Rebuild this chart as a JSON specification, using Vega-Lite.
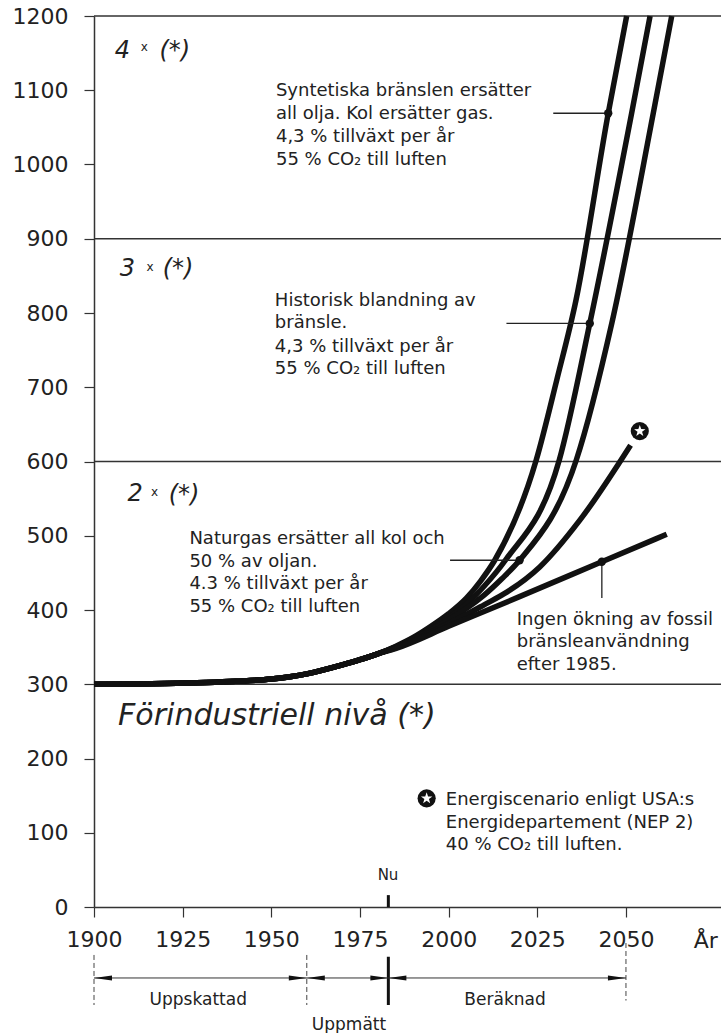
{
  "$schema": "https://vega.github.io/schema/vega-lite/v6.json",
  "width": 627,
  "height": 891,
  "autosize": {"type": "none"},
  "padding": {"left": 94, "top": 16, "right": 0, "bottom": 126},
  "background": "white",
  "config": {"view": {"stroke": null}, "font": "DejaVu Sans"},
  "encoding": {
    "x": {"field": "year", "type": "quantitative", "title": null,
      "scale": {"domain": [1900, 2076.8], "nice": false, "zero": false},
      "axis": {"values": [1900, 1925, 1950, 1975, 2000, 2025, 2050], "format": "d", "grid": false,
        "domainColor": "#333", "domainWidth": 1.5, "tickColor": "#333", "tickSize": 10, "tickWidth": 1.2,
        "labelFontSize": 22, "labelColor": "#222", "labelPadding": 12, "labelFlush": false}},
    "y": {"field": "value", "type": "quantitative", "title": null,
      "scale": {"domain": [0, 1200], "nice": false},
      "axis": {"values": [0, 100, 200, 300, 400, 500, 600, 700, 800, 900, 1000, 1100, 1200], "format": "d", "grid": false,
        "domainColor": "#333", "domainWidth": 1.5, "tickColor": "#333", "tickSize": 10, "tickWidth": 1.2,
        "labelFontSize": 22, "labelColor": "#222", "labelPadding": 16, "labelFlush": false}}
  },
  "layer": [
    {
      "data": {"values": [
        {"year": 1900, "year2": 2076.8, "value": 300}, {"year": 1900, "year2": 2076.8, "value": 600},
        {"year": 1900, "year2": 2076.8, "value": 900}, {"year": 1900, "year2": 2076.8, "value": 1200}
      ]},
      "mark": {"type": "rule", "color": "#333", "strokeWidth": 1.5},
      "encoding": {"x2": {"field": "year2"}}
    },
    {
      "data": {"values": [
        {"series": "A", "year": 1900, "value": 300}, {"series": "A", "year": 1920, "value": 301}, {"series": "A", "year": 1940, "value": 304}, {"series": "A", "year": 1950, "value": 307}, {"series": "A", "year": 1960, "value": 314}, {"series": "A", "year": 1970, "value": 326}, {"series": "A", "year": 1975, "value": 333}, {"series": "A", "year": 1980, "value": 341},
        {"series": "A", "year": 1985, "value": 351}, {"series": "A", "year": 1990, "value": 363}, {"series": "A", "year": 1995, "value": 378}, {"series": "A", "year": 2000, "value": 395}, {"series": "A", "year": 2005, "value": 416}, {"series": "A", "year": 2009, "value": 439}, {"series": "A", "year": 2013, "value": 467}, {"series": "A", "year": 2024.7, "value": 602}, {"series": "A", "year": 2030.5, "value": 710}, {"series": "A", "year": 2035.9, "value": 817}, {"series": "A", "year": 2045, "value": 1069}, {"series": "A", "year": 2050.2, "value": 1200},
        {"series": "B", "year": 1900, "value": 300}, {"series": "B", "year": 1920, "value": 301}, {"series": "B", "year": 1940, "value": 304}, {"series": "B", "year": 1950, "value": 307}, {"series": "B", "year": 1960, "value": 314}, {"series": "B", "year": 1970, "value": 326}, {"series": "B", "year": 1975, "value": 333}, {"series": "B", "year": 1980, "value": 341},
        {"series": "B", "year": 1985, "value": 350}, {"series": "B", "year": 1990, "value": 362}, {"series": "B", "year": 1995, "value": 375}, {"series": "B", "year": 2000, "value": 390}, {"series": "B", "year": 2005, "value": 408}, {"series": "B", "year": 2010, "value": 432}, {"series": "B", "year": 2016, "value": 467}, {"series": "B", "year": 2031.2, "value": 602}, {"series": "B", "year": 2039.8, "value": 786}, {"series": "B", "year": 2051.6, "value": 1069}, {"series": "B", "year": 2056.8, "value": 1200},
        {"series": "C", "year": 1900, "value": 300}, {"series": "C", "year": 1920, "value": 301}, {"series": "C", "year": 1940, "value": 304}, {"series": "C", "year": 1950, "value": 307}, {"series": "C", "year": 1960, "value": 314}, {"series": "C", "year": 1970, "value": 326}, {"series": "C", "year": 1975, "value": 333}, {"series": "C", "year": 1980, "value": 341},
        {"series": "C", "year": 1985, "value": 350}, {"series": "C", "year": 1990, "value": 361}, {"series": "C", "year": 1995, "value": 373}, {"series": "C", "year": 2000, "value": 387}, {"series": "C", "year": 2005, "value": 402}, {"series": "C", "year": 2010, "value": 420}, {"series": "C", "year": 2015, "value": 442}, {"series": "C", "year": 2020, "value": 467}, {"series": "C", "year": 2036, "value": 602}, {"series": "C", "year": 2046, "value": 786}, {"series": "C", "year": 2057.7, "value": 1069}, {"series": "C", "year": 2062.9, "value": 1200},
        {"series": "D", "year": 1900, "value": 300}, {"series": "D", "year": 1920, "value": 301}, {"series": "D", "year": 1940, "value": 304}, {"series": "D", "year": 1950, "value": 307}, {"series": "D", "year": 1960, "value": 314}, {"series": "D", "year": 1970, "value": 326}, {"series": "D", "year": 1975, "value": 333}, {"series": "D", "year": 1980, "value": 341},
        {"series": "D", "year": 1985, "value": 349}, {"series": "D", "year": 1990, "value": 359}, {"series": "D", "year": 1995, "value": 370}, {"series": "D", "year": 2000, "value": 382}, {"series": "D", "year": 2005, "value": 394}, {"series": "D", "year": 2010, "value": 407}, {"series": "D", "year": 2016.4, "value": 424}, {"series": "D", "year": 2025.7, "value": 458}, {"series": "D", "year": 2037, "value": 521}, {"series": "D", "year": 2051.3, "value": 622},
        {"series": "E", "year": 1900, "value": 300}, {"series": "E", "year": 1920, "value": 301}, {"series": "E", "year": 1940, "value": 304}, {"series": "E", "year": 1950, "value": 307}, {"series": "E", "year": 1960, "value": 314}, {"series": "E", "year": 1970, "value": 326}, {"series": "E", "year": 1975, "value": 333}, {"series": "E", "year": 1980, "value": 341},
        {"series": "E", "year": 1985, "value": 348}, {"series": "E", "year": 2000, "value": 378}, {"series": "E", "year": 2020, "value": 418}, {"series": "E", "year": 2043.2, "value": 465}, {"series": "E", "year": 2061.5, "value": 502}
      ]},
      "mark": {"type": "line", "interpolate": "monotone", "strokeWidth": 5.5, "color": "#111"},
      "encoding": {"detail": {"field": "series", "type": "nominal"}}
    },
    {
      "data": {"values": [
        {"year": 2029.5, "year2": 2045, "value": 1069, "value2": 1069},
        {"year": 2016.3, "year2": 2039.8, "value": 786, "value2": 786},
        {"year": 2000.4, "year2": 2020, "value": 467, "value2": 467},
        {"year": 2043.2, "year2": 2043.2, "value": 465, "value2": 416}
      ]},
      "mark": {"type": "rule", "color": "#222", "strokeWidth": 1.3},
      "encoding": {"x2": {"field": "year2"}, "y2": {"field": "value2"}}
    },
    {
      "data": {"values": [{"year": 2045, "value": 1069}, {"year": 2039.8, "value": 786}, {"year": 2020, "value": 467}, {"year": 2043.2, "value": 465}]},
      "mark": {"type": "point", "shape": "circle", "filled": true, "size": 70, "color": "#111", "opacity": 1}
    },
    {
      "data": {"values": [{"year": 2053.9, "value": 641}, {"year": 1993.8, "value": 146.3}]},
      "mark": {"type": "point", "shape": "circle", "filled": true, "size": 330, "color": "#111", "opacity": 1}
    },
    {
      "data": {"values": [{"year": 2053.9, "value": 641}, {"year": 1993.8, "value": 146.3}]},
      "mark": {"type": "point", "shape": "M0,-1L0.235,-0.324L0.951,-0.309L0.38,0.124L0.588,0.809L0,0.4L-0.588,0.809L-0.38,0.124L-0.951,-0.309L-0.235,-0.324Z", "filled": true, "size": 144, "color": "#ffffff", "opacity": 1}
    },
    {
      "data": {"values": [
        {"label": "Syntetiska bränslen ersätter", "year": 1951.3, "value": 1092.3},
        {"label": "all olja. Kol ersätter gas.", "year": 1951.3, "value": 1061.3},
        {"label": "4,3 % tillväxt per år", "year": 1951.3, "value": 1030.3},
        {"label": "55 % CO₂ till luften", "year": 1951.3, "value": 999.3},
        {"label": "Historisk blandning av", "year": 1951.0, "value": 809.4},
        {"label": "bränsle.", "year": 1951.0, "value": 779.8},
        {"label": "4,3 % tillväxt per år", "year": 1951.0, "value": 747.5},
        {"label": "55 % CO₂ till luften", "year": 1951.0, "value": 717.8},
        {"label": "Naturgas ersätter all kol och", "year": 1926.9, "value": 488.9},
        {"label": "50 % av oljan.", "year": 1926.9, "value": 458.3},
        {"label": "4.3 % tillväxt per år", "year": 1926.9, "value": 427.8},
        {"label": "55 % CO₂ till luften", "year": 1926.9, "value": 397.7},
        {"label": "Ingen ökning av fossil", "year": 2019.2, "value": 379.8},
        {"label": "bränsleanvändning", "year": 2019.2, "value": 350.6},
        {"label": "efter  1985.", "year": 2019.2, "value": 319.2},
        {"label": "Energiscenario enligt USA:s", "year": 1999.2, "value": 137.4},
        {"label": "Energidepartement (NEP 2)", "year": 1999.2, "value": 105.9},
        {"label": "40 % CO₂ till luften.", "year": 1999.2, "value": 76.8}
      ]},
      "mark": {"type": "text", "align": "left", "baseline": "alphabetic", "fontSize": 18, "color": "#222"},
      "encoding": {"text": {"field": "label"}}
    },
    {
      "data": {"values": [
        {"label": "4", "year": 1908.0, "value": 1152.9}, {"label": "(*)", "year": 1922.8, "value": 1152.9},
        {"label": "3", "year": 1909.4, "value": 859.3}, {"label": "(*)", "year": 1923.7, "value": 859.3},
        {"label": "2", "year": 1911.6, "value": 556}, {"label": "(*)", "year": 1925.4, "value": 555}
      ]},
      "mark": {"type": "text", "align": "center", "baseline": "middle", "fontSize": 24, "fontStyle": "italic", "color": "#222"},
      "encoding": {"text": {"field": "label"}}
    },
    {
      "data": {"values": [{"label": "x", "year": 1914.2, "value": 1157.6}, {"label": "x", "year": 1915.8, "value": 862}, {"label": "x", "year": 1917.1, "value": 559}]},
      "mark": {"type": "text", "align": "center", "baseline": "middle", "fontSize": 12, "color": "#222"},
      "encoding": {"text": {"field": "label"}}
    },
    {
      "data": {"values": [{"label": "Förindustriell nivå   (*)", "year": 1906.8, "value": 245}]},
      "mark": {"type": "text", "align": "left", "baseline": "alphabetic", "fontSize": 30, "fontStyle": "italic", "color": "#222"},
      "encoding": {"text": {"field": "label"}}
    },
    {
      "data": {"values": [
        {"year": 1900, "value": -64.6, "value2": -132},
        {"year": 1960, "value": -64.6, "value2": -132},
        {"year": 2050, "value": -48.5, "value2": -126}
      ]},
      "mark": {"type": "rule", "color": "#444", "strokeWidth": 1, "strokeDash": [5, 3]},
      "encoding": {"y2": {"field": "value2"}}
    },
    {
      "data": {"values": [{"year": 1983, "value": -67, "value2": -132}, {"year": 1983, "value": 0, "value2": 16}]},
      "mark": {"type": "rule", "color": "#111", "strokeWidth": 3},
      "encoding": {"y2": {"field": "value2"}}
    },
    {
      "data": {"values": [{"year": 1900, "year2": 2050, "value": -95.6}]},
      "mark": {"type": "rule", "color": "#333", "strokeWidth": 1},
      "encoding": {"x2": {"field": "year2"}}
    },
    {
      "data": {"values": [{"year": 1900, "value": -95.6}, {"year": 1960, "value": -95.6}, {"year": 1983, "value": -95.6}]},
      "mark": {"type": "point", "shape": "M0,0L2,-0.28L2,0.28Z", "filled": true, "size": 324, "color": "#111", "opacity": 1}
    },
    {
      "data": {"values": [{"year": 1960, "value": -95.6}, {"year": 1983, "value": -95.6}, {"year": 2050, "value": -95.6}]},
      "mark": {"type": "point", "shape": "M0,0L-2,-0.28L-2,0.28Z", "filled": true, "size": 324, "color": "#111", "opacity": 1}
    },
    {
      "data": {"values": [
        {"label": "Uppskattad", "year": 1929.4, "value": -132},
        {"label": "Beräknad", "year": 2015.9, "value": -132},
        {"label": "Uppmätt", "year": 1971.9, "value": -165.7}
      ]},
      "mark": {"type": "text", "align": "center", "baseline": "alphabetic", "fontSize": 17, "color": "#222"},
      "encoding": {"text": {"field": "label"}}
    },
    {
      "data": {"values": [{"label": "Nu", "year": 1982.9, "value": 36.4}]},
      "mark": {"type": "text", "align": "center", "baseline": "alphabetic", "fontSize": 15, "color": "#222"},
      "encoding": {"text": {"field": "label"}}
    },
    {
      "data": {"values": [{"label": "År", "year": 2072.5, "value": -55.2}]},
      "mark": {"type": "text", "align": "center", "baseline": "alphabetic", "fontSize": 22, "color": "#222"},
      "encoding": {"text": {"field": "label"}}
    }
  ]
}
